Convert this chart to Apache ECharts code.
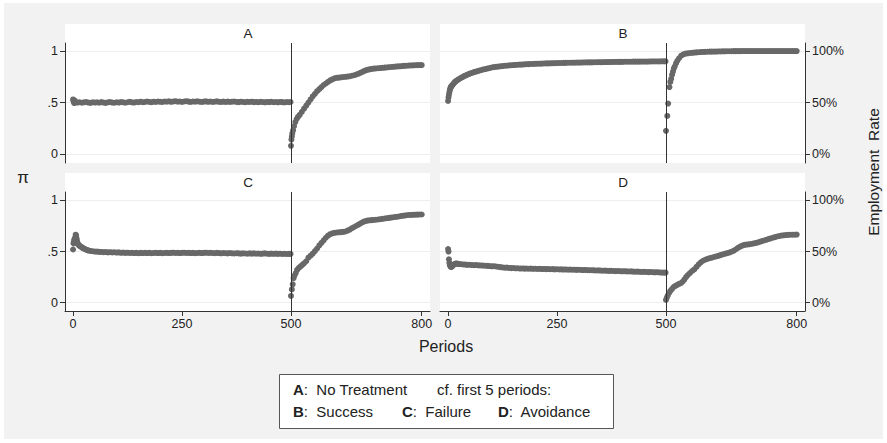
<!DOCTYPE html>
<html>
<head>
<meta charset="utf-8">
<style>
  html, body { margin: 0; padding: 0; background: #ffffff; }
  #chart { width: 887px; height: 443px; }
</style>
</head>
<body>
<div id="chart"></div>
<script src="https://cdn.jsdelivr.net/npm/echarts@6/dist/echarts.min.js"></script>
<script>
// panel titles and tick labels
var panelNames = ['A', 'B', 'C', 'D'];
var periodTicks = [0, 250, 500, 800];
var shareTicks = [0, 0.5, 1];
var leftTickLabels = {0: '0', 0.5: '.5', 1: '1'};
var rightTickLabels = {0: '0%', 0.5: '50%', 1: '100%'};
var treatmentStart = 500;

var step = 5;

// A: no treatment
var aStart = [[0, 0.53], [1, 0.515], [2, 0.50], [3, 0.495], [4, 0.52]];
var aFlatFrom = 5;
var aFlat = [
  0.505, 0.50, 0.503, 0.498, 0.502, 0.505, 0.50, 0.497, 0.503, 0.50,
  0.502, 0.498, 0.504, 0.50, 0.497, 0.502, 0.505, 0.50, 0.498, 0.503,
  0.50, 0.505, 0.502, 0.498, 0.503, 0.507, 0.502, 0.50, 0.505, 0.503,
  0.508, 0.503, 0.505, 0.51, 0.506, 0.503, 0.508, 0.505, 0.51, 0.507,
  0.505, 0.51, 0.508, 0.512, 0.507, 0.51, 0.513, 0.508, 0.51, 0.506,
  0.51, 0.513, 0.509, 0.506, 0.51, 0.508, 0.512, 0.508, 0.505, 0.509,
  0.511, 0.507, 0.51, 0.506, 0.508, 0.511, 0.507, 0.505, 0.509, 0.506,
  0.509, 0.505, 0.508, 0.51, 0.506, 0.504, 0.508, 0.506, 0.503, 0.507,
  0.505, 0.508, 0.504, 0.506, 0.503, 0.507, 0.505, 0.502, 0.506, 0.504,
  0.507, 0.503, 0.505, 0.502, 0.506, 0.504, 0.501, 0.505, 0.503
];
var aAfter = [
  [499, 0.505], [500, 0.08], [501, 0.14], [502, 0.17], [503, 0.20], [505, 0.23], [507, 0.27],
  [510, 0.31], [513, 0.34], [516, 0.36], [520, 0.38], [525, 0.41], [530, 0.44], [535, 0.47],
  [540, 0.50], [545, 0.53], [550, 0.56], [555, 0.585], [560, 0.61], [565, 0.63], [570, 0.65],
  [575, 0.67], [580, 0.685], [585, 0.70], [590, 0.715], [595, 0.725], [600, 0.735], [605, 0.74],
  [610, 0.742], [615, 0.745], [620, 0.748], [625, 0.75], [630, 0.752], [635, 0.755], [640, 0.76],
  [645, 0.765], [650, 0.772], [655, 0.78], [660, 0.79], [665, 0.80], [670, 0.81], [675, 0.817],
  [680, 0.822], [685, 0.826], [690, 0.829], [695, 0.831], [700, 0.833], [705, 0.835], [710, 0.837],
  [715, 0.839], [720, 0.841], [725, 0.843], [730, 0.845], [735, 0.847], [740, 0.849], [745, 0.851],
  [750, 0.852], [755, 0.854], [760, 0.856], [765, 0.857], [770, 0.859], [775, 0.86], [780, 0.861],
  [785, 0.862], [790, 0.863], [795, 0.864], [800, 0.864]
];

// B: success
var bStart = [
  [0, 0.515], [1, 0.55], [2, 0.575], [3, 0.60], [4, 0.62], [5, 0.635], [6, 0.648], [7, 0.655],
  [8, 0.66], [9, 0.665], [10, 0.67], [12, 0.68], [14, 0.69], [16, 0.70], [18, 0.707], [20, 0.714],
  [23, 0.722], [26, 0.73], [29, 0.738], [32, 0.745], [35, 0.752], [38, 0.758], [41, 0.764],
  [44, 0.77], [47, 0.776], [50, 0.781], [54, 0.787], [58, 0.793], [62, 0.798], [66, 0.803],
  [70, 0.808], [75, 0.814], [80, 0.82], [85, 0.825], [90, 0.83], [95, 0.835], [100, 0.84]
];
var bFlatFrom = 105;
var bFlat = [
  0.844, 0.847, 0.849, 0.852, 0.854, 0.857, 0.858, 0.861, 0.862, 0.864,
  0.865, 0.867, 0.868, 0.869, 0.871, 0.872, 0.873, 0.874, 0.875, 0.876,
  0.877, 0.877, 0.878, 0.879, 0.88, 0.88, 0.881, 0.882, 0.882, 0.883,
  0.884, 0.884, 0.885, 0.885, 0.886, 0.886, 0.887, 0.887, 0.888, 0.888,
  0.888, 0.889, 0.889, 0.89, 0.89, 0.89, 0.891, 0.891, 0.892, 0.892,
  0.892, 0.893, 0.893, 0.893, 0.894, 0.894, 0.894, 0.895, 0.895, 0.895,
  0.896, 0.896, 0.896, 0.896, 0.897, 0.897, 0.897, 0.897, 0.898, 0.898,
  0.898, 0.898, 0.899, 0.899, 0.899, 0.899, 0.899, 0.90, 0.90
];
var bAfter = [
  [499, 0.90], [500, 0.225], [503, 0.37], [505, 0.49], [508, 0.65], [510, 0.70], [512, 0.73],
  [514, 0.77], [516, 0.80], [518, 0.83], [520, 0.85], [523, 0.88], [526, 0.905], [530, 0.93],
  [535, 0.955], [540, 0.968], [545, 0.975], [550, 0.978], [555, 0.981], [560, 0.983], [565, 0.985],
  [570, 0.987], [575, 0.988], [580, 0.99], [585, 0.991], [590, 0.992], [595, 0.993], [600, 0.994],
  [605, 0.994], [610, 0.995], [615, 0.995], [620, 0.996], [625, 0.996], [630, 0.997], [635, 0.997],
  [640, 0.998], [645, 0.998], [650, 0.998], [655, 0.999], [660, 0.999], [665, 0.999], [670, 0.999],
  [675, 1], [680, 1], [685, 1], [690, 1], [695, 1], [700, 1], [705, 1], [710, 1], [715, 1],
  [720, 1], [725, 1], [730, 1], [735, 1], [740, 1], [745, 1], [750, 1], [755, 1], [760, 1],
  [765, 1], [770, 1], [775, 1], [780, 1], [785, 1], [790, 1], [795, 1], [800, 1]
];

// C: failure
var cStart = [
  [0, 0.52], [1, 0.58], [2, 0.60], [3, 0.62], [4, 0.59], [5, 0.64], [6, 0.665], [7, 0.655],
  [8, 0.63], [9, 0.605], [10, 0.585], [11, 0.575], [12, 0.568], [14, 0.56], [16, 0.553],
  [18, 0.547], [20, 0.541], [22, 0.536], [24, 0.531], [27, 0.525], [30, 0.519], [33, 0.514],
  [36, 0.51], [40, 0.506], [45, 0.503], [50, 0.50], [55, 0.499], [60, 0.497]
];
var cFlatFrom = 65;
var cFlat = [
  0.496, 0.494, 0.495, 0.492, 0.494, 0.491, 0.493, 0.49, 0.492, 0.488,
  0.49, 0.487, 0.489, 0.486, 0.488, 0.485, 0.487, 0.484, 0.487, 0.485,
  0.488, 0.485, 0.487, 0.484, 0.486, 0.488, 0.485, 0.487, 0.484, 0.486,
  0.488, 0.485, 0.487, 0.489, 0.486, 0.488, 0.485, 0.487, 0.489, 0.486,
  0.488, 0.485, 0.487, 0.484, 0.486, 0.488, 0.485, 0.487, 0.489, 0.486,
  0.488, 0.486, 0.484, 0.487, 0.485, 0.483, 0.486, 0.484, 0.482, 0.485,
  0.483, 0.481, 0.484, 0.482, 0.48, 0.483, 0.481, 0.479, 0.482, 0.48,
  0.482, 0.479, 0.481, 0.478, 0.48, 0.482, 0.479, 0.477, 0.48, 0.478,
  0.48, 0.477, 0.479, 0.476, 0.478, 0.476, 0.477
];
var cAfter = [
  [499, 0.477], [500, 0.066], [502, 0.13], [504, 0.18], [506, 0.24], [508, 0.265], [511, 0.29],
  [514, 0.32], [518, 0.34], [522, 0.355], [526, 0.37], [530, 0.385], [535, 0.405], [540, 0.44],
  [545, 0.46], [550, 0.48], [555, 0.505], [560, 0.53], [565, 0.56], [570, 0.585], [575, 0.61],
  [580, 0.635], [585, 0.655], [590, 0.67], [595, 0.678], [600, 0.683], [605, 0.686], [610, 0.688],
  [615, 0.69], [620, 0.692], [625, 0.696], [630, 0.705], [635, 0.715], [640, 0.728], [645, 0.74],
  [650, 0.752], [655, 0.764], [660, 0.776], [665, 0.788], [670, 0.797], [675, 0.802], [680, 0.805],
  [685, 0.807], [690, 0.809], [695, 0.811], [700, 0.813], [705, 0.816], [710, 0.82], [715, 0.823],
  [720, 0.826], [725, 0.829], [730, 0.832], [735, 0.835], [740, 0.838], [745, 0.841], [750, 0.845],
  [755, 0.849], [760, 0.852], [765, 0.855], [770, 0.857], [775, 0.858], [780, 0.859], [785, 0.86],
  [790, 0.861], [795, 0.862], [800, 0.862]
];

// D: avoidance
var dStart = [
  [0, 0.525], [1, 0.50], [2, 0.425], [3, 0.39], [4, 0.37], [5, 0.36], [6, 0.353], [7, 0.35],
  [8, 0.352], [9, 0.355], [10, 0.36], [12, 0.368], [14, 0.375], [16, 0.38], [18, 0.383],
  [20, 0.382], [23, 0.38], [26, 0.378], [30, 0.376], [35, 0.374]
];
var dFlatFrom = 40;
var dFlat = [
  0.372, 0.37, 0.371, 0.368, 0.367, 0.368, 0.365, 0.364, 0.363, 0.361,
  0.36, 0.358, 0.356, 0.357, 0.354, 0.351, 0.348, 0.345, 0.342, 0.343,
  0.34, 0.338, 0.339, 0.336, 0.337, 0.334, 0.335, 0.333, 0.334, 0.332,
  0.333, 0.331, 0.332, 0.33, 0.331, 0.329, 0.33, 0.328, 0.329, 0.327,
  0.328, 0.326, 0.327, 0.325, 0.326, 0.324, 0.325, 0.323, 0.324, 0.322,
  0.323, 0.321, 0.322, 0.32, 0.319, 0.32, 0.318, 0.317, 0.318, 0.316,
  0.315, 0.316, 0.314, 0.313, 0.314, 0.312, 0.311, 0.312, 0.31, 0.309,
  0.31, 0.308, 0.307, 0.308, 0.306, 0.305, 0.306, 0.304, 0.303, 0.304,
  0.302, 0.301, 0.302, 0.30, 0.299, 0.30, 0.298, 0.297, 0.298, 0.296,
  0.295, 0.294
];
var dAfter = [
  [499, 0.294], [500, 0.027], [502, 0.05], [504, 0.07], [507, 0.095], [510, 0.115], [514, 0.135],
  [518, 0.155], [522, 0.165], [526, 0.175], [530, 0.185], [534, 0.19], [538, 0.205], [542, 0.225],
  [546, 0.25], [550, 0.27], [555, 0.29], [560, 0.31], [565, 0.325], [570, 0.35], [575, 0.375],
  [580, 0.395], [585, 0.41], [590, 0.42], [595, 0.428], [600, 0.435], [605, 0.44], [610, 0.447],
  [615, 0.452], [620, 0.458], [625, 0.465], [630, 0.472], [635, 0.478], [640, 0.484], [645, 0.49],
  [650, 0.498], [655, 0.507], [660, 0.52], [665, 0.535], [670, 0.548], [675, 0.558], [680, 0.565],
  [685, 0.568], [690, 0.571], [695, 0.574], [700, 0.578], [705, 0.583], [710, 0.588], [715, 0.595],
  [720, 0.602], [725, 0.608], [730, 0.615], [735, 0.622], [740, 0.628], [745, 0.635], [750, 0.641],
  [755, 0.647], [760, 0.652], [765, 0.656], [770, 0.659], [775, 0.661], [780, 0.663], [785, 0.664],
  [790, 0.665], [795, 0.665], [800, 0.666]
];

function joinPanel(start, flatFrom, flat, after) {
    var pts = start.slice();
    for (var i = 0; i < flat.length; i++) {
        pts.push([flatFrom + i * step, flat[i]]);
    }
    return pts.concat(after);
}

var panelData = [
    joinPanel(aStart, aFlatFrom, aFlat, aAfter),
    joinPanel(bStart, bFlatFrom, bFlat, bAfter),
    joinPanel(cStart, cFlatFrom, cFlat, cAfter),
    joinPanel(dStart, dFlatFrom, dFlat, dAfter)
];

var font = '"Liberation Sans", Arial, Helvetica, sans-serif';
var ink = '#222';
var dotColor = '#686868';

// layout of each plot region, white boxes sit behind
var boxes = [
    {left: 65, top: 43, height: 120, boxTop: 24, ymin: -0.087, ymax: 1.078},
    {left: 440, top: 43, height: 120, boxTop: 24, ymin: -0.087, ymax: 1.078},
    {left: 65, top: 192, height: 119, boxTop: 173, ymin: -0.081, ymax: 1.082},
    {left: 440, top: 192, height: 119, boxTop: 173, ymin: -0.081, ymax: 1.082}
];
var plotWidth = 365;

var grids = [], xAxes = [], yAxes = [], series = [], graphics = [];

graphics.push({
    type: 'rect', z: -20, silent: true,
    shape: {x: 4, y: 3, width: 879, height: 436},
    style: {fill: '#f2f2f2'}
});

boxes.forEach(function (b, i) {
    var bottomRow = i >= 2;
    var rightCol = i % 2 === 1;
    grids.push({left: b.left, top: b.top, width: plotWidth, height: b.height, containLabel: false});

    graphics.push({
        type: 'rect', z: -10, silent: true,
        shape: {x: b.left, y: b.boxTop, width: plotWidth, height: b.top + b.height - b.boxTop},
        style: {fill: '#ffffff'}
    });
    graphics.push({
        type: 'text', z: 5, silent: true,
        x: b.left + plotWidth / 2 + 0.5, y: b.boxTop + 9,
        style: {text: panelNames[i], font: '13.5px ' + font, fill: ink, align: 'center', verticalAlign: 'middle'}
    });

    xAxes.push({
        type: 'value', gridIndex: i, min: -18.5, max: 819,
        show: bottomRow,
        axisLine: {show: true, onZero: false, lineStyle: {color: '#333', width: 1}},
        axisTick: {show: true, length: 5, customValues: periodTicks, lineStyle: {color: '#333'}},
        axisLabel: {show: true, customValues: periodTicks, margin: 6, fontSize: 12.5, fontFamily: font, color: ink},
        splitLine: {show: false}
    });

    var labels = rightCol ? rightTickLabels : leftTickLabels;
    yAxes.push({
        type: 'value', gridIndex: i, min: b.ymin, max: b.ymax,
        position: rightCol ? 'right' : 'left',
        axisLine: {show: true, onZero: false, lineStyle: {color: '#333', width: 1}},
        axisTick: {show: true, length: 5, customValues: shareTicks, lineStyle: {color: '#333'}},
        axisLabel: {
            show: true, customValues: shareTicks, margin: 7, fontSize: 12.5, fontFamily: font, color: ink,
            formatter: function (v) { return labels[v] !== undefined ? labels[v] : ''; }
        },
        splitLine: {show: true, lineStyle: {color: '#eeeeee', width: 1}}
    });

    series.push({
        type: 'scatter', xAxisIndex: i, yAxisIndex: i,
        data: panelData[i],
        symbol: 'circle', symbolSize: 6,
        itemStyle: {color: dotColor, opacity: 1},
        silent: true,
        markLine: {
            silent: true, symbol: 'none', animation: false,
            label: {show: false},
            lineStyle: {color: '#333', width: 1, type: 'solid'},
            data: [{xAxis: treatmentStart}]
        }
    });
});

// axis captions
graphics.push({
    type: 'text', silent: true, x: 23, y: 177,
    style: {text: 'π', font: '17px ' + font, fill: ink, align: 'center', verticalAlign: 'middle'}
});
graphics.push({
    type: 'text', silent: true, x: 873, y: 172, rotation: Math.PI / 2,
    style: {text: 'Employment  Rate', font: '15.5px ' + font, fill: ink, align: 'center', verticalAlign: 'middle'}
});
graphics.push({
    type: 'text', silent: true, x: 446, y: 346,
    style: {text: 'Periods', font: '16px ' + font, fill: ink, align: 'center', verticalAlign: 'middle'}
});

// key box
graphics.push({
    type: 'rect', silent: true,
    shape: {x: 279.5, y: 374.5, width: 334, height: 54},
    style: {fill: '#ffffff', stroke: '#555', lineWidth: 1}
});
var keyRich = {b: {fontWeight: 'bold', fontSize: 15, fontFamily: font, fill: ink}};
function keyText(x, y, letter, words) {
    graphics.push({
        type: 'text', silent: true, x: x, y: y,
        style: {
            text: (letter ? '{b|' + letter + '}:  ' : '') + words,
            rich: keyRich, fontSize: 15, fontFamily: font, fill: ink,
            align: 'left', verticalAlign: 'middle'
        }
    });
}
keyText(293, 389, 'A', 'No Treatment');
keyText(437, 389, '', 'cf. first 5 periods:');
keyText(293, 411, 'B', 'Success');
keyText(402, 411, 'C', 'Failure');
keyText(498, 411, 'D', 'Avoidance');

var chart = echarts.init(document.getElementById('chart'), null, {renderer: 'svg'});
chart.setOption({
    backgroundColor: '#ffffff',
    animation: false,
    grid: grids,
    xAxis: xAxes,
    yAxis: yAxes,
    series: series,
    graphic: graphics
});
</script>
</body>
</html>
